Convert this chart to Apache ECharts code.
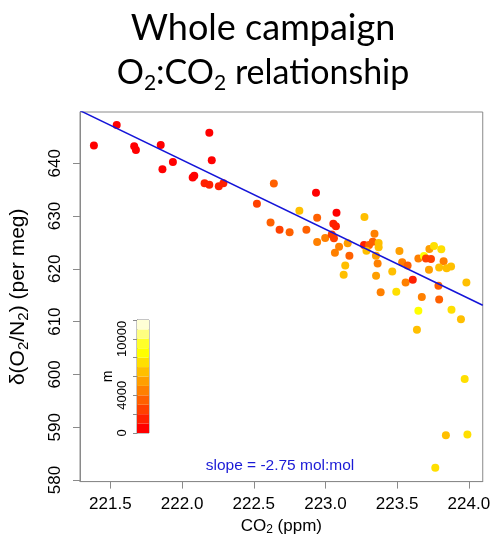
<!DOCTYPE html>
<html>
<head>
<meta charset="utf-8">
<script src="https://cdn.jsdelivr.net/npm/echarts@6/dist/echarts.min.js"></script>
<style>
  html, body { margin: 0; padding: 0; background: #fff; }
  #chart { width: 493px; height: 542px; }
</style>
</head>
<body>
<div id="chart"></div>
<script>
// Flask samples: CO2 (ppm), d(O2/N2) (per meg) and sampling altitude (m)
const co2 = [
  221.385, 221.544, 221.666, 221.678, 221.851, 221.863, 221.936, 222.190, 222.207, 222.074,
  222.085, 222.157, 222.190, 222.256, 222.288, 222.640, 222.522, 222.617, 222.680, 222.750,
  222.818, 222.934, 222.942, 222.867, 222.942, 222.998, 223.077, 223.055, 223.073, 223.044,
  223.059, 223.095, 223.066, 223.155, 223.167, 223.138, 223.127, 223.272, 223.342, 223.269,
  223.304, 223.330, 223.371, 223.371, 223.286, 223.352, 223.364, 223.353, 223.466, 223.385,
  223.494, 223.516, 223.535, 223.573, 223.559, 223.609, 223.648, 223.687, 223.701, 223.736,
  223.725, 223.757, 223.808, 223.824, 223.722, 223.793, 223.845, 223.876, 223.788, 223.983,
  223.672, 223.793, 223.648, 223.879, 223.945, 223.638, 223.971, 223.840, 223.990, 223.766
];
const o2n2 = [
  643.35, 647.23, 643.22, 642.48, 643.46, 638.88, 640.23, 645.77, 640.58, 637.31,
  637.62, 636.20, 635.92, 635.64, 636.20, 636.14, 632.32, 628.76, 627.39, 626.91,
  630.99, 634.41, 629.68, 627.39, 625.06, 625.86, 630.60, 628.53, 628.07, 626.50,
  625.80, 624.16, 623.05, 624.84, 622.49, 620.65, 618.87, 629.79, 626.65, 624.53,
  624.53, 625.12, 624.88, 624.10, 623.42, 622.49, 621.02, 618.69, 619.48, 615.57,
  615.64, 623.36, 621.24, 620.65, 617.40, 617.91, 621.94, 622.44, 621.94, 621.88,
  623.73, 624.32, 623.69, 621.42, 619.80, 620.26, 620.09, 620.46, 616.80, 617.41,
  614.64, 614.18, 612.04, 612.26, 610.43, 608.44, 599.13, 588.49, 588.60, 582.32
];
const altitude = [
  500, 500, 500, 500, 500, 500, 500, 500, 500, 500,
  500, 1500, 1500, 1500, 1500, 3500, 2500, 3500, 2500, 3500,
  6500, 500, 3500, 3500, 4500, 4500, 500, 1500, 1500, 2500,
  2500, 4500, 4500, 5500, 3500, 6500, 6500, 6500, 4500, 1500,
  3500, 3500, 6500, 6500, 6500, 5500, 4500, 5500, 6500, 4500,
  7500, 5500, 4500, 3500, 4500, 1500, 4500, 8500, 2500, 2500,
  5500, 7500, 7500, 4500, 5500, 6500, 6500, 6500, 3500, 6500,
  4500, 3500, 8500, 7500, 6500, 6500, 7500, 6500, 7500, 7500
];

// Axis ticks
const xTicks = [221.5, 222.0, 222.5, 223.0, 223.5, 224.0];
const yTicks = [580, 590, 600, 610, 620, 630, 640];
const xRange = [221.288, 224.097];
const yRange = [579.7, 649.7];

// Altitude colour scale (heat colours, 1000 m bins)
const altBreaks = [0, 1000, 2000, 3000, 4000, 5000, 6000, 7000, 8000, 9000, 10000, 11000, 12000];
const heatColors = ['#FF0000', '#FF2000', '#FF4000', '#FF6000', '#FF8000', '#FF9F00',
                    '#FFBF00', '#FFDF00', '#FFFF00', '#FFFF2A', '#FFFF80', '#FFFFD5'];
const altTicks = [0, 2000, 4000, 6000, 8000, 10000, 12000];
const altLabels = [0, 4000, 10000];

// Least-squares fit (per meg per ppm), passing through the anchor point
const slopeMolMol = -2.75;
const fitSlope = -13.12;
const fitAnchor = [223.0, 627.5];

const fitLine = xRange.map(x => [x, fitAnchor[1] + fitSlope * (x - fitAnchor[0])]);

const axisFont = 'Liberation Sans, Arial, sans-serif';
const gray = '#8a8a8a';

const chart = echarts.init(document.getElementById('chart'), null, { renderer: 'canvas' });

const subRich = (size) => ({
  n: { fontSize: size, lineHeight: Math.round(size * 1.3), fontFamily: axisFont, color: '#000', verticalAlign: 'middle' },
  s: { fontSize: Math.round(size * 0.72), lineHeight: Math.round(size * 0.72), fontFamily: axisFont, color: '#000', verticalAlign: 'bottom', padding: [0, 0, 1, 0] }
});

const colorbarSeries = heatColors.map((c, i) => ({
  type: 'bar',
  xAxisIndex: 1,
  yAxisIndex: 1,
  stack: 'altitude',
  barWidth: '100%',
  silent: true,
  z: 1,
  data: [altBreaks[i + 1] - altBreaks[i]],
  itemStyle: { color: c }
}));

chart.setOption({
  animation: false,
  backgroundColor: '#fff',
  graphic: [
    {
      type: 'text', x: 263, y: 28, z: 10,
      style: {
        text: 'Whole campaign',
        fontFamily: 'Lato, sans-serif', fontSize: 36, fill: '#000',
        textAlign: 'center', textVerticalAlign: 'middle'
      }
    },
    {
      type: 'text', x: 263, y: 73, z: 10,
      style: {
        text: '{n|O}{s|2}{n|:CO}{s|2}{n| relationship}',
        textAlign: 'center', textVerticalAlign: 'middle',
        rich: {
          n: { fontFamily: 'Lato, sans-serif', fontSize: 34, lineHeight: 46, fill: '#000', verticalAlign: 'middle' },
          s: { fontFamily: 'Lato, sans-serif', fontSize: 21, lineHeight: 21, fill: '#000', verticalAlign: 'bottom', padding: [0, 0, 2, 0] }
        }
      }
    },
    {
      type: 'text', x: 280, y: 466, z: 10,
      style: {
        text: 'slope = ' + slopeMolMol.toFixed(2) + ' mol:mol',
        fontFamily: axisFont, fontSize: 15.5, fill: '#1a1ad6',
        textAlign: 'center', textVerticalAlign: 'middle'
      }
    }
  ],
  grid: [
    { left: 77, top: 112, width: 406, height: 379, show: true, borderColor: gray, borderWidth: 1, backgroundColor: 'transparent' },
    { left: 137, top: 320, width: 12, height: 113, show: true, borderColor: gray, borderWidth: 1, backgroundColor: 'transparent' }
  ],
  xAxis: [
    {
      type: 'value', gridIndex: 0, min: xRange[0], max: xRange[1],
      splitLine: { show: false },
      axisLine: { show: true, lineStyle: { color: gray } },
      axisTick: { show: true, customValues: xTicks, length: 7, lineStyle: { color: gray } },
      axisLabel: {
        customValues: xTicks, formatter: v => v.toFixed(1),
        color: '#000', fontSize: 17, fontFamily: axisFont, margin: 14
      },
      name: '{n|CO}{s|2}{n| (ppm)}', nameLocation: 'middle', nameGap: 29,
      nameTextStyle: { rich: subRich(17) }
    },
    {
      type: 'category', gridIndex: 1, data: [''], show: false
    }
  ],
  yAxis: [
    {
      type: 'value', gridIndex: 0, min: yRange[0], max: yRange[1],
      splitLine: { show: false },
      axisLine: { show: true, lineStyle: { color: gray } },
      axisTick: { show: true, customValues: yTicks, length: 7, lineStyle: { color: gray } },
      axisLabel: {
        customValues: yTicks, rotate: 90,
        color: '#000', fontSize: 17, fontFamily: axisFont, margin: 16
      },
      name: '{n|δ(O}{s|2}{n|/N}{s|2}{n|) (per meg)}', nameLocation: 'middle', nameGap: 48,
      nameTextStyle: { rich: subRich(21) }
    },
    {
      type: 'value', gridIndex: 1, min: 0, max: 12000,
      splitLine: { show: false },
      axisLine: { show: true, lineStyle: { color: gray } },
      axisTick: { show: true, customValues: altTicks, length: 4, lineStyle: { color: gray } },
      axisLabel: {
        customValues: altLabels, rotate: 90, formatter: v => String(v),
        color: '#000', fontSize: 13, fontFamily: axisFont, margin: 8
      },
      name: 'm', nameLocation: 'middle', nameGap: 21,
      nameTextStyle: { color: '#000', fontSize: 14, fontFamily: axisFont }
    }
  ],
  visualMap: {
    type: 'piecewise', show: false, seriesIndex: 0, dimension: 2,
    pieces: heatColors.map((c, i) => ({ gte: altBreaks[i], lt: altBreaks[i + 1], color: c }))
  },
  series: [
    {
      type: 'scatter', xAxisIndex: 0, yAxisIndex: 0,
      symbol: 'circle', symbolSize: 8, z: 2,
      data: co2.map((x, i) => [x, o2n2[i], altitude[i]]),
      itemStyle: { opacity: 1 }
    },
    {
      type: 'line', xAxisIndex: 0, yAxisIndex: 0,
      data: fitLine, symbol: 'none', clip: true, silent: true, z: 3,
      lineStyle: { color: '#1414d8', width: 1.5 }
    },
    ...colorbarSeries
  ]
});
</script>
</body>
</html>
